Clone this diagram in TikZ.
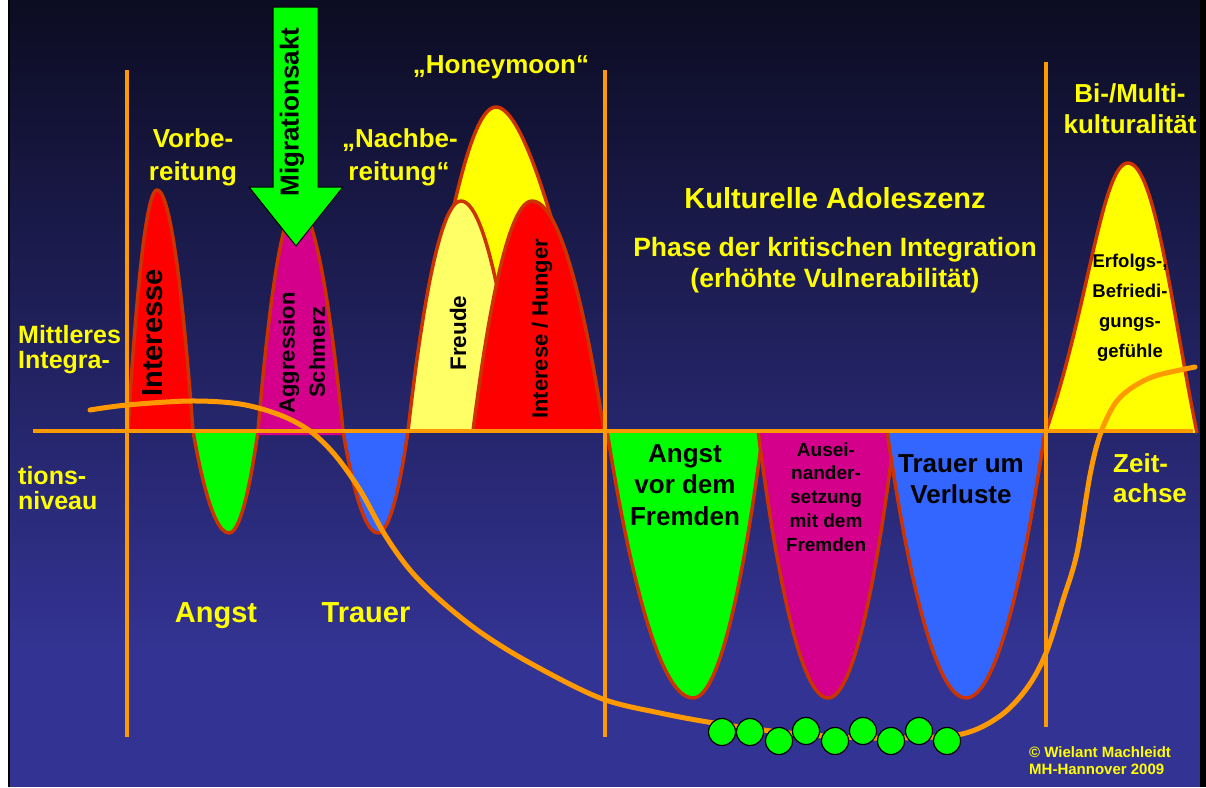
\documentclass[tikz,border=0pt]{standalone}
\usepackage{fontspec}
\setmainfont{Liberation Sans}
\definecolor{bgtop}{HTML}{0C0C22}
\definecolor{bgbot}{HTML}{333393}
\definecolor{org}{HTML}{FF9900}
\definecolor{outl}{HTML}{CC3300}
\definecolor{grn}{HTML}{00FF00}
\definecolor{mag}{HTML}{D4008C}
\definecolor{blu}{HTML}{3366FF}
\definecolor{yel}{HTML}{FFFF00}
\definecolor{lyel}{HTML}{FFFF66}
\definecolor{rd}{HTML}{FF0000}
\begin{document}
\begin{tikzpicture}[x=1pt,y=-1pt,
  outline/.style={draw=outl, line width=3.5pt, line join=round},
  axisline/.style={draw=org, line width=4pt},
  ytext/.style={text=yel, inner sep=0pt, anchor=base, font=\bfseries\fontsize{26}{30}\selectfont},
  ybig/.style={ytext, font=\bfseries\fontsize{29}{32}\selectfont},
  yleft/.style={ytext, anchor=base west, font=\bfseries\fontsize{25}{28}\selectfont},
  ysmall/.style={ytext, font=\bfseries\fontsize{15}{17}\selectfont},
  btext/.style={text=black, inner sep=0pt, anchor=base, font=\bfseries\fontsize{26}{30}\selectfont},
  bmid/.style={btext, font=\bfseries\fontsize{19}{22}\selectfont},
  bsmall/.style={btext, font=\bfseries\fontsize{18.5}{22}\selectfont},
  rtext/.style={text=black, inner sep=0pt, rotate=90, anchor=center},
  bead/.style={circle, fill=grn, draw=black, line width=1.2pt, minimum size=27pt, inner sep=0pt}]
\useasboundingbox (0,0) rectangle (1206,787);
% background
\fill[white] (0,0) rectangle (1206,787);
\shade[top color=bgtop, bottom color=bgbot] (10,0) rectangle (1200,650);
\fill[bgbot] (10,649) rectangle (1200,787);
\fill[black] (8,0) rectangle (10,787);
\fill[black] (1200,0) rectangle (1206,787);

% small peaks and troughs
\fill[rd] (128,431) parabola bend (157,190) (193,431) -- cycle;
\draw[outline] (128,431) parabola bend (157,190) (193,431);
\fill[grn] (193,431) parabola bend (229,533) (258,431) -- cycle;
\draw[outline] (193,431) parabola bend (229,533) (258,431);
\fill[mag] (258,435) -- (258,431) parabola bend (297,205) (343,431) -- (343,435) -- cycle;
\draw[outline] (258,431) parabola bend (297,205) (343,431);
\fill[blu] (343,431) parabola bend (378,533) (408,431) -- cycle;
\draw[outline] (343,431) parabola bend (378,533) (408,431);

% honeymoon
\fill[yel] (408,431) .. controls (440,280) and (465,107) .. (496,107)
  .. controls (530,107) and (575,300) .. (604,431) -- cycle;
\draw[outline] (408,431) .. controls (440,280) and (465,107) .. (496,107)
  .. controls (530,107) and (575,300) .. (604,431);
\fill[lyel] (408,431) parabola bend (461,201) (520,431) -- cycle;
\draw[outline] (408,431) parabola bend (461,201) (520,431);
\fill[rd] (473,431) parabola bend (532,201) (604,431) -- cycle;
\draw[outline] (473,431) parabola bend (532,201) (604,431);

% big troughs
\fill[grn] (607,431) parabola bend (693,698) (763,431) -- cycle;
\draw[outline] (607,431) parabola bend (693,698) (763,431);
\fill[mag] (758,431) parabola bend (828,698) (895,431) -- cycle;
\draw[outline] (758,431) parabola bend (828,698) (895,431);
\fill[blu] (887,431) parabola bend (966,698) (1045,431) -- cycle;
\draw[outline] (887,431) parabola bend (966,698) (1045,431);

% right peak
\fill[yel] (1046,431) .. controls (1088,310) and (1102,163) .. (1128,163)
  .. controls (1155,163) and (1172,310) .. (1197,433) -- cycle;
\draw[outline] (1046,431) .. controls (1088,310) and (1102,163) .. (1128,163)
  .. controls (1155,163) and (1172,310) .. (1197,433);

% axes
\draw[axisline] (127,70) -- (127,737);
\draw[axisline] (605,70) -- (605,737);
\draw[axisline] (1046,62) -- (1046,727);
\draw[axisline] (33,431) -- (1193,431);

% integration curve
\draw[org, line width=5pt, line cap=round] plot[smooth, tension=0.55] coordinates {
  (90,410) (127,405) (190,401) (240,404) (280,415) (310,431) (335,455)
  (360,490) (385,535) (410,570) (440,600) (480,632) (530,663) (600,698)
  (660,713) (720,724) (780,732) (840,737) (900,738) (962,734) (1000,716)
  (1027,688) (1046,653) (1063,600) (1077,553) (1090,475) (1100,435)
  (1114,405) (1130,389) (1155,376) (1195,367)};

% beads
\node[bead] (c1) at (722,732) {};
\node[bead] (c2) at (750,732) {};
\node[bead] (c3) at (779,741) {};
\node[bead] (c4) at (806,731) {};
\node[bead] (c5) at (835,741) {};
\node[bead] (c6) at (863,731) {};
\node[bead] (c7) at (891,741) {};
\node[bead] (c8) at (919,731) {};
\node[bead] (c9) at (947,741) {};

% migration arrow
\draw[fill=grn, draw=black, line width=1pt, line join=miter]
  (273,7) -- (318,7) -- (318,187) -- (343,187) -- (296,246) -- (249,187) -- (273,187) -- cycle;
\node[rtext, font=\bfseries\fontsize{26}{30}\selectfont] (mig) at (292,112) {Migrationsakt};

% rotated labels in peaks
\node[rtext, font=\bfseries\fontsize{29}{32}\selectfont] (inter) at (153,333) {Interesse};
\node[rtext, font=\bfseries\fontsize{22}{26}\selectfont] (aggr) at (289,353) {Aggression};
\node[rtext, font=\bfseries\fontsize{22}{26}\selectfont] (schm) at (317,352) {Schmerz};
\node[rtext, font=\bfseries\fontsize{22.5}{26}\selectfont] (freu) at (458,333) {Freude};
\node[rtext, font=\bfseries\fontsize{22}{26}\selectfont] (hung) at (542,329) {Interese / Hunger};

% black labels in troughs
\node[btext] (a1) at (685,462) {Angst};
\node[btext] (a2) at (685,493) {vor dem};
\node[btext] (a3) at (685,525) {Fremden};
\node[bmid] (b1) at (826,456) {Ausei-};
\node[bmid] (b2) at (826,479) {nander-};
\node[bmid] (b3) at (826,503) {setzung};
\node[bmid] (b4) at (826,527) {mit dem};
\node[bmid] (b5) at (826,551) {Fremden};
\node[btext] (t1) at (961,472) {Trauer um};
\node[btext] (t2) at (961,503) {Verluste};
\node[bsmall] (e1) at (1130,267) {Erfolgs-,};
\node[bsmall] (e2) at (1130,297) {Befriedi-};
\node[bsmall] (e3) at (1130,327) {gungs-};
\node[bsmall] (e4) at (1130,357) {gefühle};

% yellow labels
\node[ytext] (v1) at (193,147) {Vorbe-};
\node[ytext] (v2) at (193,180) {reitung};
\node[ytext] (n1) at (400,147) {„Nachbe-};
\node[ytext] (n2) at (399,180) {reitung“};
\node[ytext] (hm) at (501,73) {„Honeymoon“};
\node[ybig] (ka) at (835,208) {Kulturelle Adoleszenz};
\node[ytext, font=\bfseries\fontsize{26.5}{30}\selectfont] (ph1) at (835,256) {Phase der kritischen Integration};
\node[ytext, font=\bfseries\fontsize{26.5}{30}\selectfont] (ph2) at (835,287) {(erhöhte Vulnerabilität)};
\node[ytext] (bm1) at (1130,102) {Bi-/Multi-};
\node[ytext] (bm2) at (1130,133) {kulturalität};
\node[ytext, anchor=base west] (z1) at (1113,472) {Zeit-};
\node[ytext, anchor=base west] (z2) at (1113,502) {achse};
\node[yleft] (m1) at (18,343) {Mittleres};
\node[yleft] (m2) at (18,368) {Integra-};
\node[yleft] (m3) at (18,484) {tions-};
\node[yleft] (m4) at (18,509) {niveau};
\node[ybig] (ang) at (216,622) {Angst};
\node[ybig] (tra) at (366,622) {Trauer};
\node[ysmall, anchor=base west] (cp1) at (1029,757) {© Wielant Machleidt};
\node[ysmall, anchor=base west] (cp2) at (1029,774) {MH-Hannover 2009};
\end{tikzpicture}
\end{document}
